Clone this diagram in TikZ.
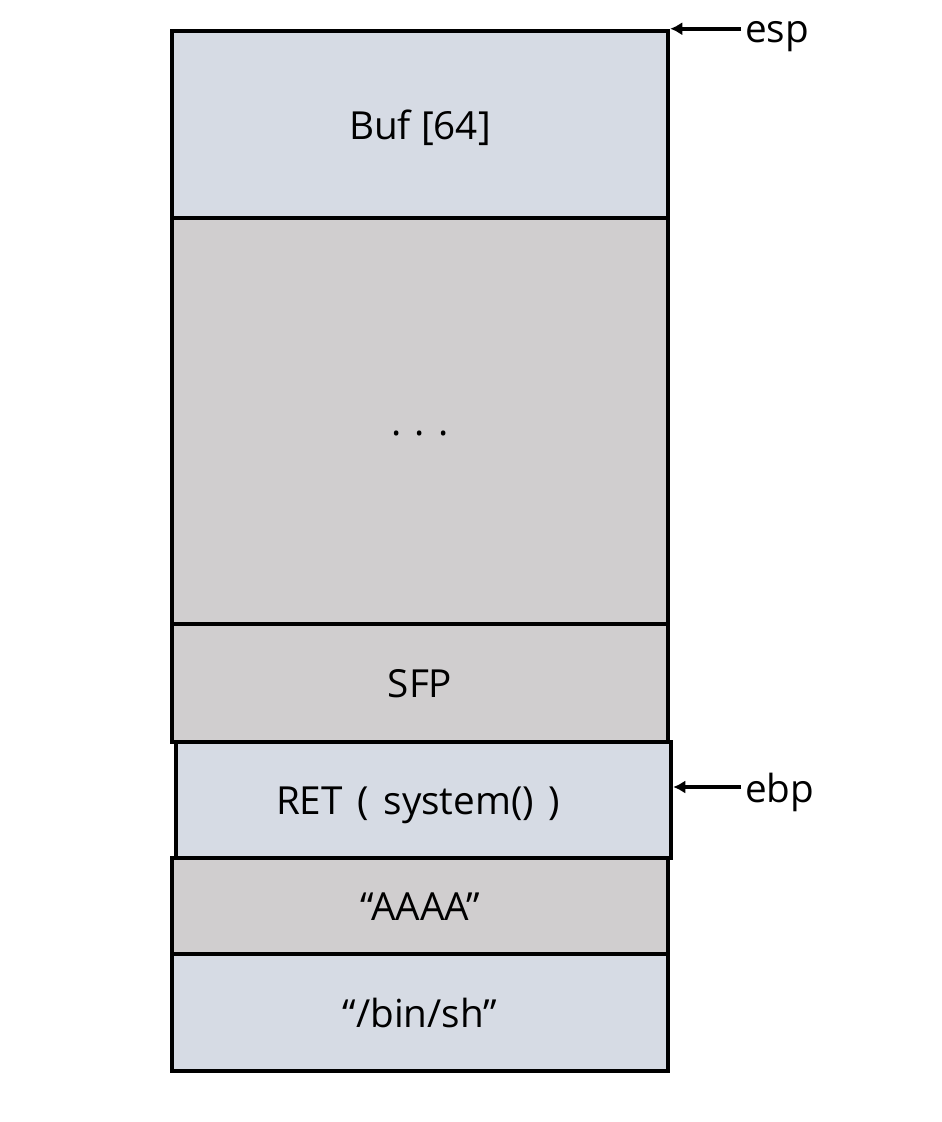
\documentclass[tikz,border=0pt]{standalone}
\usepackage{fontspec}
\setmainfont{Open Sans}
\usetikzlibrary{arrows.meta}
\definecolor{bluegray}{HTML}{D6DBE4}
\definecolor{stackgray}{HTML}{D0CECF}
\tikzset{
  cell/.style={draw, line width=3.4pt, minimum width=372pt, inner sep=0pt, text height=22pt, text depth=0pt},
  pointer/.style={-{Latex[length=9pt,width=10pt]}, line width=3pt}
}
\begin{document}
\begin{tikzpicture}[x=0.75pt, y=-0.75pt, font=\fontsize{29}{35}\selectfont]
\useasboundingbox (0,0) rectangle (942,1122);

\node(buf) at (420, 124.5) [cell, fill=bluegray, minimum height=140.25pt] {Buf [64]};
\node(dots) at (420, 421) [cell, fill=stackgray, minimum height=304.5pt] {. . .};
\node(sfp) at (420, 683) [cell, fill=stackgray, minimum height=88.5pt] {SFP};
\node(aaaa) at (420, 906) [cell, fill=stackgray, minimum height=72pt] {“AAAA”};
\node(binsh) at (420, 1012.5) [cell, fill=bluegray, minimum height=87.75pt] {“/bin/sh”};
\node(ret) at (423.5, 800) [cell, fill=bluegray, minimum width=371.25pt, minimum height=87pt] {RET\hspace{0.38em}(\hspace{0.38em}system()\hspace{0.38em})\hspace*{8pt}};

\node(esp) at (745, 37) [anchor=west, inner sep=0pt] {esp};
\node(ebp) at (745, 792) [anchor=west, inner sep=0pt] {ebp};

\draw[pointer] ([xshift=-3pt]esp.west |- buf.north east) to (buf.north east);
\draw[pointer] ([xshift=-3pt]ebp.west |- 0,787) to (ret.east |- 0,787);

\end{tikzpicture}
\end{document}
